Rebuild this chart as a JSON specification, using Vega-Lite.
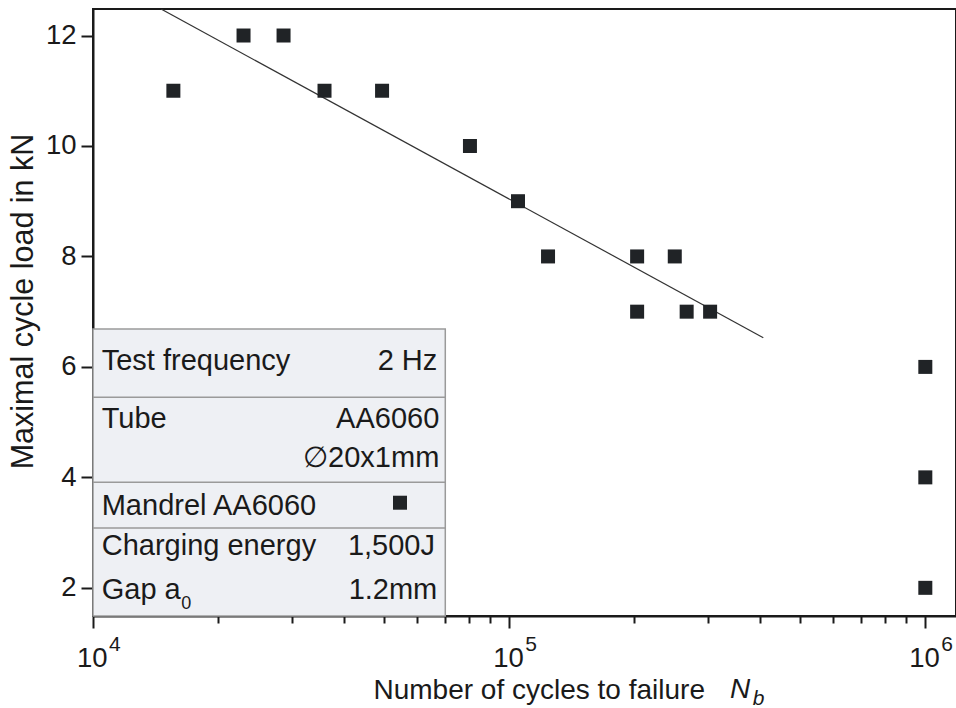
{
  "$schema": "https://vega.github.io/schema/vega-lite/v6.json",
  "width": 863,
  "height": 607,
  "autosize": "none",
  "padding": {"left": 93, "top": 9, "right": 0, "bottom": 92},
  "background": "white",
  "config": {
    "view": {"stroke": "#1a1a1a", "strokeWidth": 2},
    "font": "Liberation Sans",
    "axis": {
      "domainColor": "#1a1a1a", "domainWidth": 2,
      "tickColor": "#1a1a1a", "tickWidth": 2,
      "labelColor": "#1a1a1a", "titleColor": "#1a1a1a",
      "labelFont": "Liberation Sans", "titleFont": "Liberation Sans",
      "labelFontSize": 27.5,
      "titleFontWeight": "normal", "grid": false
    }
  },
  "datasets": {
    "points": [
      {"N": 15600, "load": 11},
      {"N": 23000, "load": 12},
      {"N": 28700, "load": 12},
      {"N": 36000, "load": 11},
      {"N": 49500, "load": 11},
      {"N": 80500, "load": 10},
      {"N": 105000, "load": 9},
      {"N": 124000, "load": 8},
      {"N": 203000, "load": 8},
      {"N": 203000, "load": 7},
      {"N": 250000, "load": 8},
      {"N": 267000, "load": 7},
      {"N": 304000, "load": 7},
      {"N": 1000000, "load": 6},
      {"N": 1000000, "load": 4},
      {"N": 1000000, "load": 2}
    ],
    "fit": [
      {"N": 14570, "load": 12.48},
      {"N": 408000, "load": 6.529}
    ],
    "box": [{"N": 10000, "N2": 70230, "load": 1.49, "load2": 6.686}],
    "seps": [
      {"N": 10000, "N2": 70230, "load": 5.449},
      {"N": 10000, "N2": 70230, "load": 3.91},
      {"N": 10000, "N2": 70230, "load": 3.083}
    ],
    "labels": [
      {"text": "Test frequency", "N": 10494, "load": 5.944},
      {"text": "Tube", "N": 10494, "load": 4.894},
      {"text": "Mandrel AA6060", "N": 10494, "load": 3.318},
      {"text": "Charging energy", "N": 10494, "load": 2.594},
      {"text": "Gap a", "N": 10494, "load": 1.792}
    ],
    "values": [
      {"text": "2 Hz", "N": 67190, "load": 5.944},
      {"text": "AA6060", "N": 67940, "load": 4.894},
      {"text": "∅20x1mm", "N": 67940, "load": 4.193},
      {"text": "1,500J", "N": 66340, "load": 2.594},
      {"text": "1.2mm", "N": 67190, "load": 1.792}
    ],
    "marker": [{"N": 54670, "load": 3.541}],
    "sub": [{"text": "0", "N": 16300, "load": 1.616}],
    "exps": [
      {"text": "4", "N": 10927, "load": 0.861},
      {"text": "5", "N": 109270, "load": 0.861},
      {"text": "6", "N": 1092700, "load": 0.861}
    ],
    "titleN": [{"text": "N", "N": 339400, "load": 0.005}],
    "titleB": [{"text": "b", "N": 385000, "load": -0.12}]
  },
  "layer": [
    {
      "data": {"name": "box"},
      "mark": {"type": "rect", "fill": "#eef0f4", "stroke": "#9a9a9a", "strokeWidth": 1.5},
      "encoding": {
        "x": {
          "field": "N", "type": "quantitative",
          "scale": {"type": "log", "domain": [10000, 1185000], "nice": false},
          "axis": {
            "orient": "bottom",
            "values": [10000, 20000, 30000, 40000, 50000, 60000, 70000, 80000, 90000, 100000, 200000, 300000, 400000, 500000, 600000, 700000, 800000, 900000, 1000000],
            "tickSize": {"condition": {"test": "datum.value == 10000 || datum.value == 100000 || datum.value == 1000000", "value": 12}, "value": 7},
            "labelExpr": "datum.value == 10000 || datum.value == 100000 || datum.value == 1000000 ? '10' : ''",
            "labelFontSize": 27.5,
            "labelAlign": "left",
            "labelOffset": -16.5,
            "labelBaseline": "alphabetic",
            "labelPadding": 38,
            "labelFlush": false,
            "labelOverlap": false,
            "labelBound": false,
            "title": "Number of cycles to failure",
            "titleFontSize": 28,
            "titleAlign": "left",
            "titleAnchor": "start",
            "titleBaseline": "alphabetic",
            "titleX": 280,
            "titleY": 82
          }
        },
        "x2": {"field": "N2"},
        "y": {
          "field": "load", "type": "quantitative",
          "scale": {"domain": [1.49, 12.48], "nice": false, "zero": false},
          "axis": {
            "values": [2, 4, 6, 8, 10, 12],
            "format": "d",
            "tickSize": 12,
            "labelFontSize": 27.5,
            "labelPadding": 5,
            "labelFlush": false,
            "labelOverlap": false,
            "title": "Maximal cycle load in kN",
            "titleFontSize": 30.5,
            "titleAngle": -90,
            "titleAlign": "center",
            "titleBaseline": "alphabetic",
            "titleX": -61,
            "titleY": 292
          }
        },
        "y2": {"field": "load2"}
      }
    },
    {
      "data": {"name": "seps"},
      "mark": {"type": "rule", "stroke": "#9a9a9a", "strokeWidth": 1.5},
      "encoding": {
        "x": {"field": "N", "type": "quantitative"},
        "x2": {"field": "N2"},
        "y": {"field": "load", "type": "quantitative"}
      }
    },
    {
      "data": {"name": "fit"},
      "mark": {"type": "line", "color": "#333333", "strokeWidth": 1.2, "clip": true},
      "encoding": {
        "x": {"field": "N", "type": "quantitative"},
        "y": {"field": "load", "type": "quantitative"}
      }
    },
    {
      "data": {"name": "points"},
      "mark": {"type": "point", "shape": "square", "filled": true, "size": 196, "color": "#202326", "opacity": 1},
      "encoding": {
        "x": {"field": "N", "type": "quantitative"},
        "y": {"field": "load", "type": "quantitative"}
      }
    },
    {
      "data": {"name": "labels"},
      "mark": {"type": "text", "align": "left", "baseline": "alphabetic", "fontSize": 29, "color": "#1a1a1a", "font": "Liberation Sans"},
      "encoding": {
        "x": {"field": "N", "type": "quantitative"},
        "y": {"field": "load", "type": "quantitative"},
        "text": {"field": "text"}
      }
    },
    {
      "data": {"name": "values"},
      "mark": {"type": "text", "align": "right", "baseline": "alphabetic", "fontSize": 29, "color": "#1a1a1a", "font": "Liberation Sans"},
      "encoding": {
        "x": {"field": "N", "type": "quantitative"},
        "y": {"field": "load", "type": "quantitative"},
        "text": {"field": "text"}
      }
    },
    {
      "data": {"name": "marker"},
      "mark": {"type": "point", "shape": "square", "filled": true, "size": 196, "color": "#202326", "opacity": 1},
      "encoding": {
        "x": {"field": "N", "type": "quantitative"},
        "y": {"field": "load", "type": "quantitative"}
      }
    },
    {
      "data": {"name": "sub"},
      "mark": {"type": "text", "align": "left", "baseline": "alphabetic", "fontSize": 18, "color": "#1a1a1a", "font": "Liberation Sans"},
      "encoding": {
        "x": {"field": "N", "type": "quantitative"},
        "y": {"field": "load", "type": "quantitative"},
        "text": {"field": "text"}
      }
    },
    {
      "data": {"name": "exps"},
      "mark": {"type": "text", "align": "left", "baseline": "alphabetic", "fontSize": 21, "color": "#1a1a1a", "font": "Liberation Sans"},
      "encoding": {
        "x": {"field": "N", "type": "quantitative"},
        "y": {"field": "load", "type": "quantitative"},
        "text": {"field": "text"}
      }
    },
    {
      "data": {"name": "titleN"},
      "mark": {"type": "text", "align": "left", "baseline": "alphabetic", "fontSize": 28, "fontStyle": "italic", "color": "#1a1a1a", "font": "Liberation Sans"},
      "encoding": {
        "x": {"field": "N", "type": "quantitative"},
        "y": {"field": "load", "type": "quantitative"},
        "text": {"field": "text"}
      }
    },
    {
      "data": {"name": "titleB"},
      "mark": {"type": "text", "align": "left", "baseline": "alphabetic", "fontSize": 21, "fontStyle": "italic", "color": "#1a1a1a", "font": "Liberation Sans"},
      "encoding": {
        "x": {"field": "N", "type": "quantitative"},
        "y": {"field": "load", "type": "quantitative"},
        "text": {"field": "text"}
      }
    }
  ]
}
